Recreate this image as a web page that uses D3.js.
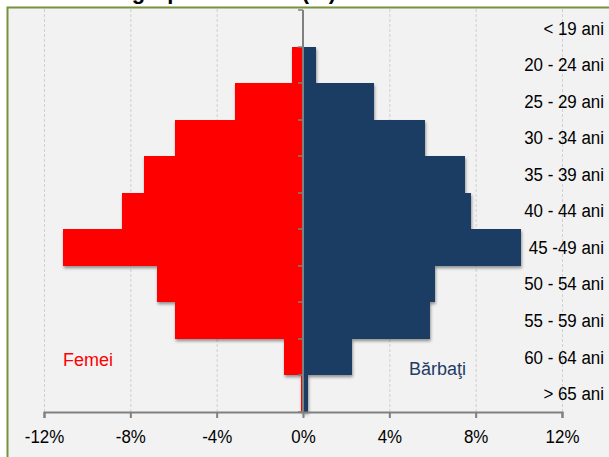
<!DOCTYPE html>
<html>
<head>
<meta charset="utf-8">
<script src="https://cdn.jsdelivr.net/npm/d3@7/dist/d3.min.js"></script>
<style>
  html, body { margin: 0; padding: 0; background: #ffffff; }
  svg { display: block; }
</style>
</head>
<body>
<svg id="chart" width="609" height="457"></svg>
<script>
// ---- data ----
const categories = ["< 19 ani", "20 - 24 ani", "25 - 29 ani", "30 - 34 ani", "35 - 39 ani",
  "40 - 44 ani", "45 -49 ani", "50 - 54 ani", "55 - 59 ani", "60 - 64 ani", "> 65 ani"];
const femei   = [0, -0.52, -3.15, -5.93, -7.37, -8.40, -11.14, -6.78, -5.93, -0.88, -0.10];
const barbati = [0,  0.60,  3.29,  5.65,  7.50,  7.78,  10.09,  6.12,  5.88,  2.27,  0.23];
const xTicks = [-12, -8, -4, 0, 4, 8, 12];
const title = "Structura grupe de vârstă (%)";
const seriesNames = ["Femei", "Bărbaţi"];

// ---- drawing ----
const svg = d3.select("#chart");
const W = 609, H = 457;
const font = "'Liberation Sans', Arial, Helvetica, sans-serif";
const red = "#ff0000", blue = "#1f3c64", axisGray = "#808080";
const sx = 0.89; // condensed look

const x = d3.scaleLinear().domain([-12, 12]).range([44, 562]);
const y = d3.scaleBand().domain(categories).range([10, 412]).padding(0);

const defs = svg.append("defs");
const f = defs.append("filter").attr("id", "shadow")
  .attr("x", "-10%").attr("y", "-20%").attr("width", "130%").attr("height", "160%");
f.append("feDropShadow").attr("dx", 0.8).attr("dy", 2.2).attr("stdDeviation", 1.4)
  .attr("flood-color", "#000").attr("flood-opacity", 0.4);

// title (mostly clipped above, as in the original)
svg.append("text").attr("x", 336).attr("y", -1).attr("text-anchor", "end")
  .attr("font-family", font).attr("font-weight", "bold")
  .attr("font-size", 22).attr("fill", "#000").text(title);

// chart frame
svg.append("rect").attr("x", 7.5).attr("y", 7.5).attr("width", W + 20).attr("height", H + 20)
  .attr("fill", "#f2f2f2").attr("stroke", "#77933c").attr("stroke-width", 2);

// gridlines
svg.append("g").selectAll("line").data(xTicks.filter(d => d !== 0)).join("line")
  .attr("x1", d => x(d) + 0.5).attr("x2", d => x(d) + 0.5)
  .attr("y1", 9).attr("y2", y.range()[1])
  .attr("stroke", "#cfcfcf").attr("stroke-width", 1).attr("stroke-dasharray", "3,2");

// bars
const rows = categories.map((c, i) => ({ c, f: femei[i], b: barbati[i] }));
const bars = svg.append("g").attr("filter", "url(#shadow)");
rows.forEach(r => {
  const y0 = Math.round(y(r.c)), y1 = Math.round(y(r.c) + y.bandwidth());
  if (r.f !== 0) bars.append("rect").attr("x", x(r.f)).attr("y", y0)
    .attr("width", x(0) - x(r.f)).attr("height", y1 - y0).attr("fill", red)
    .attr("shape-rendering", "crispEdges");
  if (r.b !== 0) bars.append("rect").attr("x", x(0)).attr("y", y0)
    .attr("width", x(r.b) - x(0)).attr("height", y1 - y0).attr("fill", blue)
    .attr("shape-rendering", "crispEdges");
});

// vertical zero axis with left ticks
const zeroG = svg.append("g");
zeroG.append("line").attr("x1", x(0)).attr("x2", x(0))
  .attr("y1", y.range()[0]).attr("y2", y.range()[1])
  .attr("stroke", axisGray).attr("stroke-width", 2);
const bounds = categories.map(c => Math.round(y(c))).concat([y.range()[1]]);
zeroG.selectAll("line.tk").data(bounds).join("line").attr("class", "tk")
  .attr("x1", x(0) - 5).attr("x2", x(0))
  .attr("y1", d => d).attr("y2", d => d)
  .attr("stroke", axisGray).attr("stroke-width", 1.5);

// bottom axis
const xAxis = d3.axisBottom(x).tickValues(xTicks).tickSize(6).tickFormat(d => d + "%");
const gx = svg.append("g").attr("transform", `translate(0,${y.range()[1]})`).call(xAxis);
gx.select(".domain").attr("stroke", axisGray).attr("stroke-width", 2);
gx.selectAll(".tick line").attr("stroke", axisGray).attr("stroke-width", 2);
gx.selectAll(".tick text").attr("font-family", font).attr("font-size", 19)
  .attr("fill", "#000").attr("y", 0).attr("dy", 0)
  .attr("transform", `translate(0,31) scale(${sx},1)`);

// right category labels
svg.append("g").selectAll("text").data(categories).join("text")
  .attr("transform", d => `translate(604,${y(d) + y.bandwidth() / 2}) scale(${sx},1)`)
  .attr("dominant-baseline", "central").attr("text-anchor", "end")
  .attr("font-family", font).attr("font-size", 19).attr("fill", "#000")
  .text(d => d);

// series labels
svg.append("text").attr("x", 63).attr("y", 366).attr("font-family", font)
  .attr("font-size", 18).attr("fill", red).text(seriesNames[0]);
svg.append("text").attr("x", 409).attr("y", 375).attr("font-family", font)
  .attr("font-size", 18).attr("fill", blue).text(seriesNames[1]);
</script>
</body>
</html>
